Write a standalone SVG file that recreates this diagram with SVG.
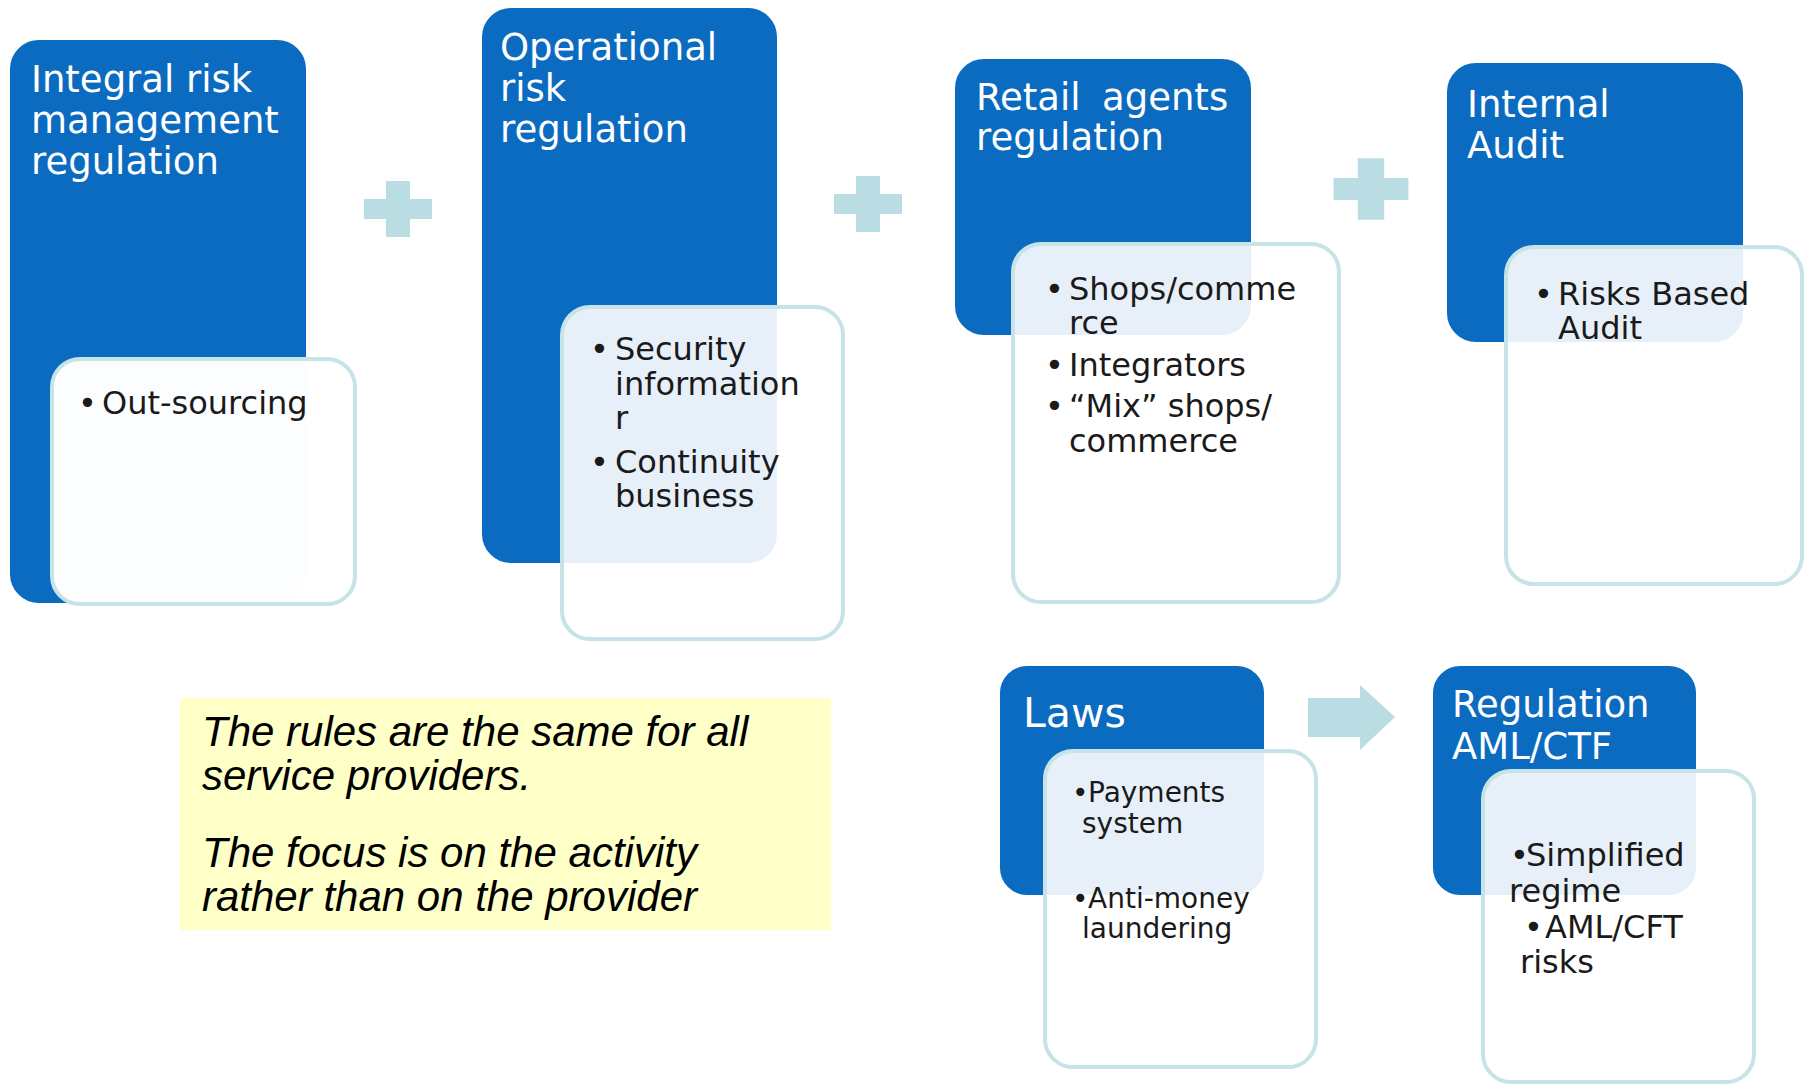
<svg xmlns="http://www.w3.org/2000/svg" width="1805" height="1086" viewBox="0 0 1805 1086">
  <style>
    .head { fill: #0B6BC0; stroke: #ffffff; stroke-width: 2; }
    .card { fill: #ffffff; fill-opacity: 0.9; stroke: #C6E3E8; stroke-width: 4; }
    .solid { fill-opacity: 0.99; }
    .title { font-family: "DejaVu Sans", Verdana, sans-serif; font-size: 37px; fill: #ffffff; }
    .big { font-size: 41px; }
    .item { font-family: "DejaVu Sans", Verdana, sans-serif; font-size: 32px; fill: #1a1a1a; }
    .small { font-size: 28px; }
    .note { font-family: "Liberation Sans", Arial, sans-serif; font-style: italic; font-size: 42px; fill: #000000; }
    .link { fill: #B9DDE3; }
  </style>
  <defs>
    <path id="plus" d="M-12,-28 H12 V-10 H34 V10 H12 V28 H-12 V10 H-34 V-10 H-12 Z"/>
  </defs>

  <rect width="1805" height="1086" fill="#ffffff"/>

  <!-- plus signs and arrow between the blocks -->
  <g id="connectors" class="link">
    <use href="#plus" transform="translate(398,209)"/>
    <use href="#plus" transform="translate(868,204)"/>
    <use href="#plus" transform="translate(1371,189) scale(1.1)"/>
    <path d="M1308,698 H1360 V685 L1395,717 L1360,750 V737 H1308 Z"/>
  </g>

  <g id="integral-risk">
    <rect class="head" x="9" y="39" width="298" height="565" rx="30"/>
    <text class="title" x="31">
      <tspan x="31" y="92">Integral risk</tspan>
      <tspan x="31" y="133">management</tspan>
      <tspan x="31" y="174">regulation</tspan>
    </text>
    <rect class="card solid" x="52" y="359" width="303" height="245" rx="28"/>
    <text class="item"><tspan x="78" y="414">•</tspan><tspan x="102" y="414">Out-sourcing</tspan></text>
  </g>

  <g id="operational-risk">
    <rect class="head" x="481" y="7" width="297" height="557" rx="30"/>
    <text class="title">
      <tspan x="500" y="60">Operational</tspan>
      <tspan x="500" y="101">risk</tspan>
      <tspan x="500" y="142">regulation</tspan>
    </text>
    <rect class="card" x="562" y="307" width="281" height="332" rx="28"/>
    <text class="item">
      <tspan x="590" y="360">•</tspan><tspan x="615" y="360">Security</tspan>
      <tspan x="615" y="395">information</tspan>
      <tspan x="615" y="429">r</tspan>
      <tspan x="590" y="473">•</tspan><tspan x="615" y="473">Continuity</tspan>
      <tspan x="615" y="507">business</tspan>
    </text>
  </g>

  <g id="retail-agents">
    <rect class="head" x="954" y="58" width="298" height="278" rx="30"/>
    <text class="title">
      <tspan x="976" y="110">Retail</tspan><tspan x="1102" y="110">agents</tspan>
      <tspan x="976" y="150">regulation</tspan>
    </text>
    <rect class="card" x="1013" y="244" width="326" height="358" rx="28"/>
    <text class="item">
      <tspan x="1045" y="300">•</tspan><tspan x="1069" y="300">Shops/comme</tspan>
      <tspan x="1069" y="334">rce</tspan>
      <tspan x="1045" y="376">•</tspan><tspan x="1069" y="376">Integrators</tspan>
      <tspan x="1045" y="417">•</tspan><tspan x="1069" y="417">“Mix” shops/</tspan>
      <tspan x="1069" y="452">commerce</tspan>
    </text>
  </g>

  <g id="internal-audit">
    <rect class="head" x="1446" y="62" width="298" height="281" rx="30"/>
    <text class="title">
      <tspan x="1467" y="117">Internal</tspan>
      <tspan x="1467" y="158">Audit</tspan>
    </text>
    <rect class="card" x="1506" y="247" width="296" height="337" rx="28"/>
    <text class="item">
      <tspan x="1534" y="305">•</tspan><tspan x="1558" y="305">Risks Based</tspan>
      <tspan x="1558" y="339">Audit</tspan>
    </text>
  </g>

  <g id="note">
    <rect x="180" y="698" width="651" height="232" fill="#FFFFC8"/>
    <text class="note">
      <tspan x="202" y="746">The rules are the same for all</tspan>
      <tspan x="202" y="790">service providers.</tspan>
      <tspan x="202" y="867">The focus is on the activity</tspan>
      <tspan x="202" y="911">rather than on the provider</tspan>
    </text>
  </g>

  <g id="laws">
    <rect class="head" x="999" y="665" width="266" height="231" rx="28"/>
    <text class="title big"><tspan x="1023" y="727">Laws</tspan></text>
    <rect class="card" x="1045" y="751" width="271" height="316" rx="28"/>
    <text class="item small">
      <tspan x="1072" y="802">•</tspan><tspan x="1088" y="802">Payments</tspan>
      <tspan x="1082" y="833">system</tspan>
      <tspan x="1072" y="908">•</tspan><tspan x="1088" y="908">Anti-money</tspan>
      <tspan x="1082" y="938">laundering</tspan>
    </text>
  </g>

  <g id="regulation-aml">
    <rect class="head" x="1432" y="665" width="265" height="231" rx="28"/>
    <text class="title">
      <tspan x="1452" y="717">Regulation</tspan>
      <tspan x="1452" y="759">AML/CTF</tspan>
    </text>
    <rect class="card" x="1483" y="771" width="271" height="311" rx="28"/>
    <text class="item">
      <tspan x="1510" y="866">•</tspan><tspan x="1526" y="866">Simplified</tspan>
      <tspan x="1509" y="902">regime</tspan>
      <tspan x="1524" y="938">•</tspan><tspan x="1545" y="938">AML/CFT</tspan>
      <tspan x="1520" y="973">risks</tspan>
    </text>
  </g>
</svg>
